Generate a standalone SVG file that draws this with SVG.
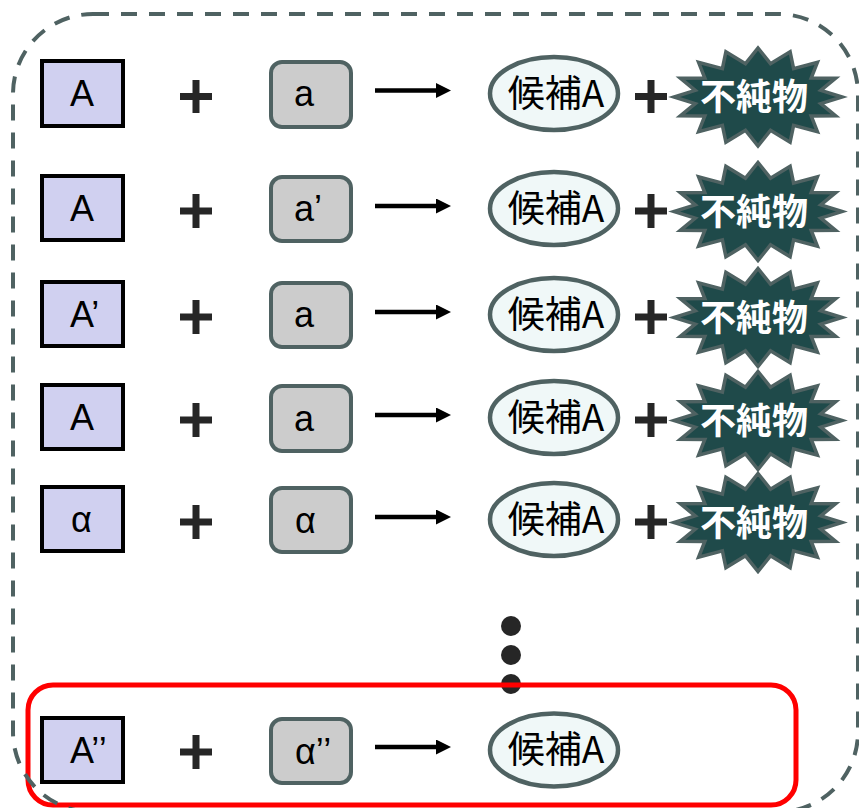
<svg xmlns="http://www.w3.org/2000/svg" xmlns:xlink="http://www.w3.org/1999/xlink" width="859" height="808" viewBox="0 0 859 808">
<style>
.frame{fill:none;stroke:#4f6262;stroke-width:4;stroke-dasharray:16 12}
.red{fill:none;stroke:#ff0000;stroke-width:5}
.pbox{fill:#d0d0f0;stroke:#000;stroke-width:4}
.gbox{fill:#cccccc;stroke:#4f6262;stroke-width:4}
.ell{fill:#f0f8f8;stroke:#4f6262;stroke-width:4.5}
.star{fill:#1f4a4a;stroke:#4f6262;stroke-width:3.5;stroke-linejoin:miter}
.lat{font-family:"Liberation Sans",Arial,sans-serif;font-size:36px;fill:#000}
.cjk{font-family:"Noto Sans CJK JP","Noto Sans CJK SC",sans-serif;font-size:37px;fill:#000;text-anchor:middle}
.imp{font-family:"Noto Sans CJK JP","Noto Sans CJK SC",sans-serif;font-size:36px;font-weight:bold;fill:#fff;text-anchor:middle}
.plus{stroke:#262626;stroke-width:7;fill:none}
.arrow{stroke:#000;stroke-width:4.5;fill:none}
.dot{fill:#262626}
</style>
<defs>
<marker id="ah" markerUnits="userSpaceOnUse" markerWidth="16" markerHeight="15" refX="0" refY="7.5" orient="auto">
<path d="M0,0 L15,7.5 L0,15 Z" fill="#000"/>
</marker>
<path id="burst" d="M84,0 L62.8,-6.6 L77.6,-18.8 L53.2,-18.9 L59.4,-34.6 L35.6,-28.3 L32.1,-45.3 L12.5,-33.3 L0,-49 L-12.5,-33.3 L-32.1,-45.3 L-35.6,-28.3 L-59.4,-34.6 L-53.2,-18.9 L-77.6,-18.8 L-62.8,-6.6 L-84,0 L-62.8,6.6 L-77.6,18.8 L-53.2,18.9 L-59.4,34.6 L-35.6,28.3 L-32.1,45.3 L-12.5,33.3 L0,49 L12.5,33.3 L32.1,45.3 L35.6,28.3 L59.4,34.6 L53.2,18.9 L77.6,18.8 L62.8,6.6 Z"/>
</defs>

<g id="row1">
<g id="r1-reactant1"><rect class="pbox" x="42" y="61" width="81" height="65"/><text class="lat" x="70" y="106">A</text></g>
<g id="r1-reactant2"><rect class="gbox" x="271" y="62" width="80" height="65" rx="11"/><text class="lat" x="294" y="106">a</text></g>
<g id="r1-product"><ellipse class="ell" cx="554" cy="93.5" rx="64" ry="36.5"/><text class="cjk" x="556" y="107">候補A</text></g>
<g id="r1-impurity"><use href="#burst" class="star" transform="translate(758,97)"/><text class="imp" x="754" y="110">不純物</text></g>
</g>

<g id="row2">
<g id="r2-reactant1"><rect class="pbox" x="42" y="176" width="81" height="64"/><text class="lat" x="70" y="221">A</text></g>
<g id="r2-reactant2"><rect class="gbox" x="271" y="177" width="80" height="64" rx="11"/><text class="lat" x="294" y="221">a’</text></g>
<g id="r2-product"><ellipse class="ell" cx="554" cy="208.5" rx="64" ry="36.5"/><text class="cjk" x="556" y="222">候補A</text></g>
<g id="r2-impurity"><use href="#burst" class="star" transform="translate(758,211.5)"/><text class="imp" x="754" y="225">不純物</text></g>
</g>

<g id="row3">
<g id="r3-reactant1"><rect class="pbox" x="42" y="282" width="81" height="64"/><text class="lat" x="70" y="327">A’</text></g>
<g id="r3-reactant2"><rect class="gbox" x="271" y="283" width="80" height="64" rx="11"/><text class="lat" x="294" y="327">a</text></g>
<g id="r3-product"><ellipse class="ell" cx="554" cy="314.5" rx="64" ry="36.5"/><text class="cjk" x="556" y="328">候補A</text></g>
<g id="r3-impurity"><use href="#burst" class="star" transform="translate(758,317.5)"/><text class="imp" x="754" y="331">不純物</text></g>
</g>

<g id="row4">
<g id="r4-reactant1"><rect class="pbox" x="42" y="385" width="81" height="64"/><text class="lat" x="70" y="430">A</text></g>
<g id="r4-reactant2"><rect class="gbox" x="271" y="386" width="80" height="65" rx="11"/><text class="lat" x="294" y="431">a</text></g>
<g id="r4-product"><ellipse class="ell" cx="554" cy="417.5" rx="64" ry="36.5"/><text class="cjk" x="556" y="431">候補A</text></g>
<g id="r4-impurity"><use href="#burst" class="star" transform="translate(758,420.5)"/><text class="imp" x="754" y="434">不純物</text></g>
</g>

<g id="row5">
<g id="r5-reactant1"><rect class="pbox" x="42" y="487" width="81" height="64"/><text class="lat" x="71" y="532">α</text></g>
<g id="r5-reactant2"><rect class="gbox" x="271" y="488" width="80" height="64" rx="11"/><text class="lat" x="295" y="533">α</text></g>
<g id="r5-product"><ellipse class="ell" cx="554" cy="519.5" rx="64" ry="36.5"/><text class="cjk" x="556" y="533">候補A</text></g>
<g id="r5-impurity"><use href="#burst" class="star" transform="translate(758,522.5)"/><text class="imp" x="754" y="536">不純物</text></g>
</g>

<g id="row6">
<g id="r6-reactant1"><rect class="pbox" x="42" y="718" width="81" height="64"/><text class="lat" x="70" y="763">A’’</text></g>
<g id="r6-reactant2"><rect class="gbox" x="271" y="719" width="80" height="64" rx="11"/><text class="lat" x="295" y="764">α’’</text></g>
<g id="r6-product"><ellipse class="ell" cx="554" cy="750" rx="64" ry="36.5"/><text class="cjk" x="556" y="763">候補A</text></g>
</g>

<g id="operators">
<path class="plus" d="M180,96.5 H212 M196,80 V113"/>
<path class="plus" d="M635,96.5 H667 M651,80 V113"/>
<path class="plus" d="M180,211 H212 M196,194 V228"/>
<path class="plus" d="M635,211 H667 M651,194 V228"/>
<path class="plus" d="M180,317 H212 M196,300 V334"/>
<path class="plus" d="M635,317 H667 M651,300 V334"/>
<path class="plus" d="M180,420 H212 M196,403 V437"/>
<path class="plus" d="M635,420 H667 M651,403 V437"/>
<path class="plus" d="M180,522 H212 M196,505 V539"/>
<path class="plus" d="M635,522 H667 M651,505 V539"/>
<path class="plus" d="M180,752 H212 M196,735 V769"/>
<circle class="dot" cx="511" cy="626" r="10"/>
<circle class="dot" cx="511" cy="655" r="10"/>
<circle class="dot" cx="511" cy="684" r="10"/>
</g>

<g id="connectors">
<line class="arrow" x1="375" y1="90.5" x2="436" y2="90.5" marker-end="url(#ah)"/>
<line class="arrow" x1="375" y1="206" x2="436" y2="206" marker-end="url(#ah)"/>
<line class="arrow" x1="375" y1="312" x2="436" y2="312" marker-end="url(#ah)"/>
<line class="arrow" x1="375" y1="415" x2="436" y2="415" marker-end="url(#ah)"/>
<line class="arrow" x1="375" y1="517" x2="436" y2="517" marker-end="url(#ah)"/>
<line class="arrow" x1="375" y1="747" x2="436" y2="747" marker-end="url(#ah)"/>
</g>

<g id="highlight">
<rect class="red" x="28" y="685" width="768" height="120" rx="25"/>
</g>

<g id="frame">
<rect class="frame" x="13" y="14" width="845" height="798" rx="80"/>
</g>
</svg>
